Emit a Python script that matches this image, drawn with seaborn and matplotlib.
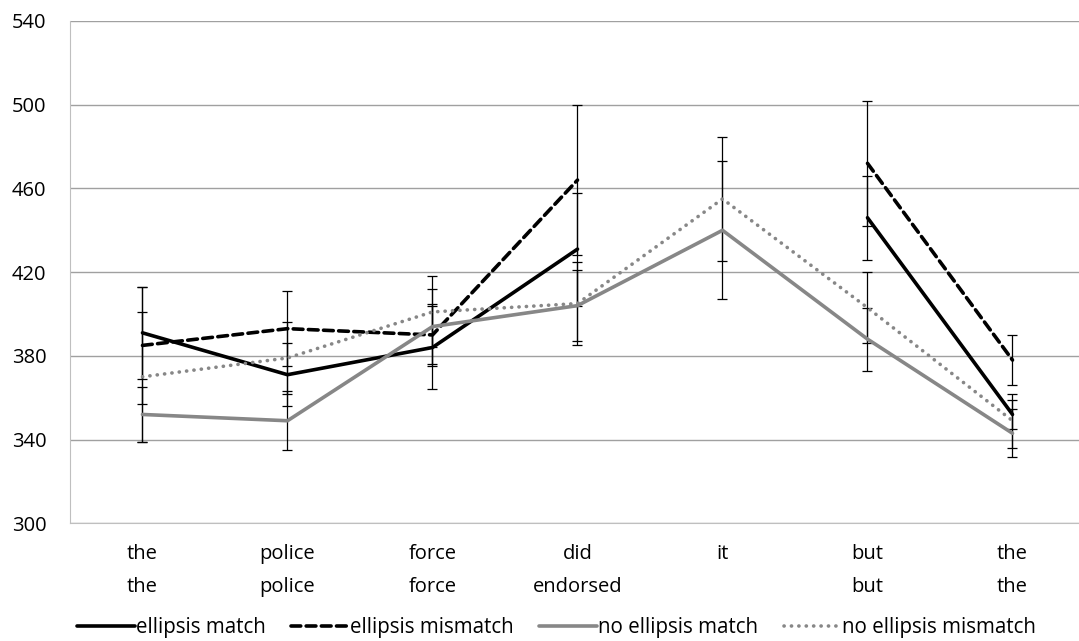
import numpy as np
import pandas as pd
import seaborn as sns
import matplotlib.pyplot as plt
from matplotlib.lines import Line2D

# Reading times per word region (ms)
regions = ['the\nthe', 'police\npolice', 'force\nforce', 'did\nendorsed', 'it', 'but\nbut', 'the\nthe']
conditions = ['ellipsis match', 'ellipsis mismatch', 'no ellipsis match', 'no ellipsis mismatch']

ellipsis_match = [391, 371, 384, 431, np.nan, 446, 352]
ellipsis_mismatch = [385, 393, 390, 464, np.nan, 472, 378]
no_ellipsis_match = [352, 349, 394, 404, 440, 388, 343]
no_ellipsis_mismatch = [370, 379, 401, 405, 455, 403, 349]

err_ellipsis_match = [22, 15, 20, 27, np.nan, 20, 7]
err_ellipsis_mismatch = [28, 18, 15, 36, np.nan, 30, 12]
err_no_ellipsis_match = [13, 14, 18, 17, 33, 15, 11.5]
err_no_ellipsis_mismatch = [31, 17, 17, 20, 29.5, 17, 13]

values = [ellipsis_match, ellipsis_mismatch, no_ellipsis_match, no_ellipsis_mismatch]
errors = [err_ellipsis_match, err_ellipsis_mismatch, err_no_ellipsis_match, err_no_ellipsis_mismatch]

rows = []
for cond, vals, errs in zip(conditions, values, errors):
    seg = 0
    for i, (v, e) in enumerate(zip(vals, errs)):
        if np.isnan(v):
            seg += 1  # break the line where there is no value
            continue
        rows.append({'cond': cond, 'pos': i, 'rt': v, 'err': e, 'seg': seg})
df = pd.DataFrame(rows)

gray = '#878787'
lw = 2.6
palette = {'ellipsis match': 'black', 'ellipsis mismatch': 'black',
           'no ellipsis match': gray, 'no ellipsis mismatch': gray}
dashes = {'ellipsis match': '', 'ellipsis mismatch': (2.7, 1.5),
          'no ellipsis match': '', 'no ellipsis mismatch': (0.05, 2.0)}

sns.set_style('white')
plt.rcParams['font.family'] = ['Open Sans', 'DejaVu Sans']
plt.rcParams['text.color'] = 'black'
plt.rcParams['xtick.labelcolor'] = 'black'
plt.rcParams['ytick.labelcolor'] = 'black'

fig = plt.figure(figsize=(10.79, 6.41), dpi=100)
ax = fig.add_axes([70 / 1079, 117.7 / 641, 1015 / 1079, 502.3 / 641])

# error bars first so the lines sit on top
ax.errorbar(df['pos'], df['rt'], yerr=df['err'], fmt='none', ecolor='black',
            elinewidth=0.9, capsize=3.4, capthick=0.9, zorder=2)

sns.lineplot(data=df, x='pos', y='rt', hue='cond', style='cond', units='seg',
             estimator=None, palette=palette, dashes=dashes, linewidth=lw,
             legend=False, ax=ax, zorder=3)
for line in ax.lines:
    line.set_dash_capstyle('round')

ax.set_xlim(-0.5, 6.5)
ax.set_ylim(300, 540)
ax.set_yticks(np.arange(300, 541, 40))
ax.set_xticks(range(len(regions)))
ax.set_xticklabels(regions, linespacing=1.85)
ax.set_xticks(np.arange(-0.5, 6.6, 1), minor=True)
ax.tick_params(axis='x', which='major', length=0, pad=15, labelsize=14.5)
ax.tick_params(axis='x', which='minor', length=6, width=1, color='#a0a0a0', direction='out')
ax.tick_params(axis='y', length=8, width=1, color='#a0a0a0', direction='out', pad=9, labelsize=14.5)
ax.yaxis.grid(True, color='#a0a0a0', linewidth=1)
ax.set_axisbelow(True)
ax.set_xlabel('')
ax.set_ylabel('')
for side in ['top', 'right']:
    ax.spines[side].set_visible(False)
ax.spines['left'].set_color('#bfbfbf')
ax.spines['bottom'].set_color('#bfbfbf')

handles = []
for c in conditions:
    if dashes[c]:
        handles.append(Line2D([], [], color=palette[c], linewidth=lw,
                              dashes=dashes[c], dash_capstyle='round'))
    else:
        handles.append(Line2D([], [], color=palette[c], linewidth=lw))
fig.legend(handles, conditions, loc='center', bbox_to_anchor=(0.516, 0.021), ncol=4,
           frameon=False, fontsize=14.8, handlelength=2.8, handletextpad=0.05,
           columnspacing=1.25)

fig.savefig('out.png', dpi=100)
